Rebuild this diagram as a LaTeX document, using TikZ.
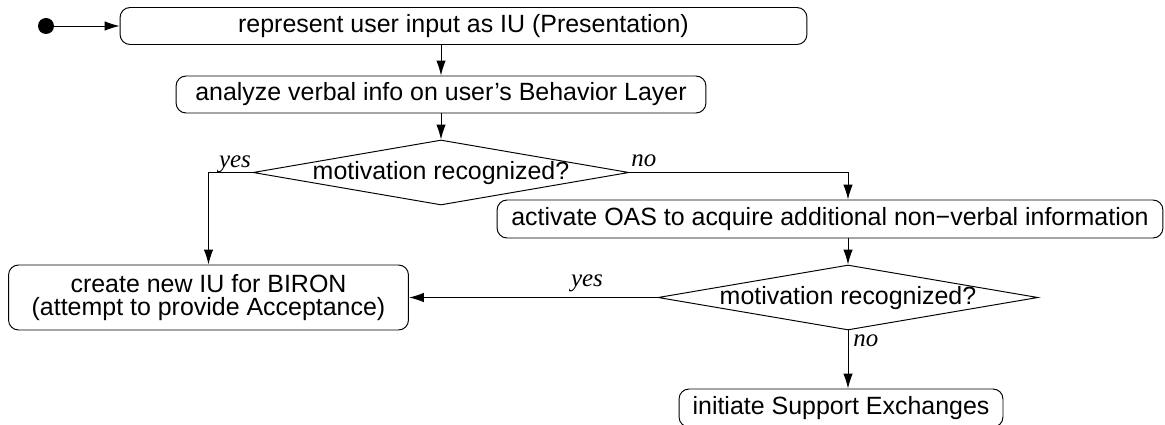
\documentclass[tikz,border=0pt]{standalone}
\usepackage{fontspec}
\setmainfont{Liberation Sans}
\newfontfamily\guardfont{Liberation Serif}
\usetikzlibrary{shapes.geometric,arrows.meta}
\newcommand{\guard}[1]{{\guardfont\itshape #1}}
\newcommand{\question}[1]{\smash{\makebox[0pt]{\raisebox{-0.3em}{#1}}}}

\begin{document}
\begin{tikzpicture}[x=0.02cm, y=-0.02cm, >={Latex[length=3mm,width=1.9mm]}, line width=0.55pt,
    font=\fontsize{14.2pt}{17pt}\selectfont]
  \tikzset{activity/.style={draw, rectangle, rounded corners=0.2cm, inner sep=2pt, align=center}}
  \tikzset{decision/.style={draw, diamond, inner sep=0pt, minimum width=7.52cm, minimum height=1.3cm}}
  \tikzset{guard label/.style={anchor=base, inner sep=0pt}}
  \useasboundingbox (0,0) rectangle (1165,425);
  \node[circle, fill, inner sep=0pt, minimum size=0.32cm] (start) at (46,26) {};
  \node[activity, minimum width=13.74cm, minimum height=0.74cm] (act-1) at (463.5,26)
    {represent user input as IU (Presentation)};
  \node[activity, minimum width=10.6cm, minimum height=0.74cm] (act-2) at (441,94.5)
    {analyze verbal info on user’s Behavior Layer};
  \node[decision] (dec-1) at (441,172.5) {\question{motivation recognized?}};
  \node[activity, minimum width=13.32cm, minimum height=0.76cm] (act-3) at (830,219)
    {activate OAS to acquire additional non−verbal information};
  \node[decision, minimum width=7.6cm] (dec-2) at (848,297.5) {\question{motivation recognized?}};
  \node[activity, minimum width=8cm, minimum height=1.3cm, font=\fontsize{14.2pt}{13pt}\selectfont]
    (act-4) at (208.5,297.5) {create new IU for BIRON\\(attempt to provide Acceptance)};
  \node[activity, minimum width=6.48cm, minimum height=0.76cm] (act-5) at (841,408)
    {initiate Support Exchanges};
  \node[guard label] (lbl-1) at (235,168) {\guard{yes}};
  \node[guard label, anchor=base west] (lbl-2) at (631,167) {\guard{no}};
  \node[guard label] (lbl-3) at (587,287) {\guard{yes}};
  \node[guard label, anchor=base west] (lbl-4) at (853,346) {\guard{no}};
  \draw[->] (start) -- (act-1);
  \draw[->] (act-2.north |- act-1.south) -- (act-2);
  \draw[->] (act-2) -- (dec-1);
  \draw[->] (dec-1.west) -| (act-4);
  \draw[->] (dec-1.east) -| (act-3.north -| dec-2.north);
  \draw[->] (act-3.south -| dec-2.north) -- (dec-2);
  \draw[->] (dec-2.west) -- (act-4.east);
  \draw[->] (dec-2.south) -- (dec-2.south |- act-5.north);
\end{tikzpicture}
\end{document}
